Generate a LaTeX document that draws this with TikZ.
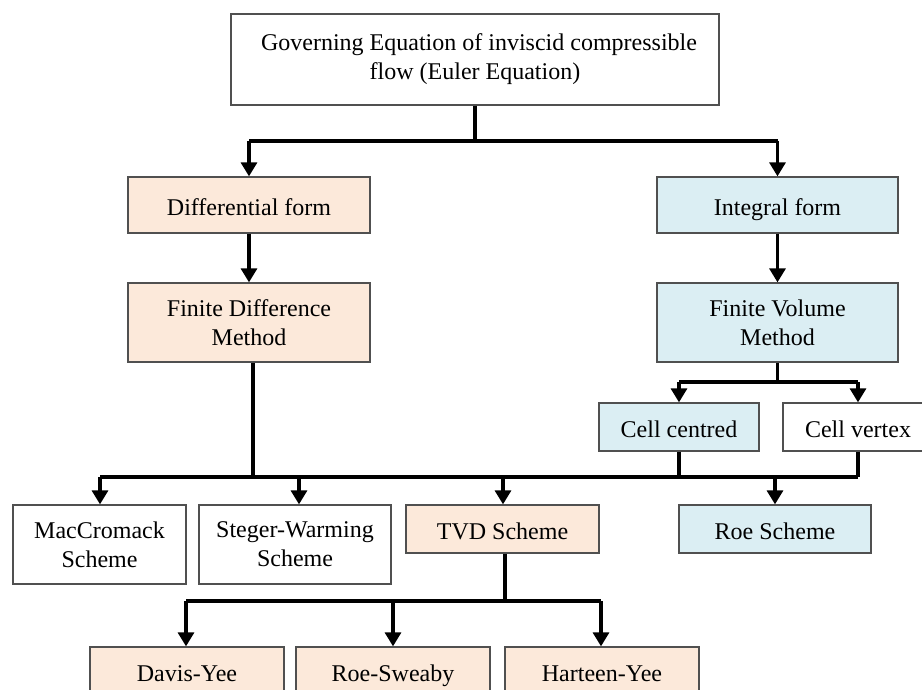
\documentclass[tikz,border=0pt]{standalone}
\usepackage{fontspec}
\setmainfont{Liberation Serif}
\usetikzlibrary{arrows.meta}

\definecolor{peach}{HTML}{FCE9DA}
\definecolor{paleblue}{HTML}{DBEEF3}
\definecolor{edge}{HTML}{505050}

\tikzset{
  box/.style={draw=edge, line width=1.3pt, fill=white, inner sep=0pt,
    align=center, font=\fontsize{24}{29}\selectfont, anchor=center},
  oneline/.style={text height=26pt, text depth=6pt},
  peachbox/.style={box, fill=peach},
  bluebox/.style={box, fill=paleblue},
  wire/.style={line width=3.2pt, line cap=butt, line join=miter},
  arr/.style={wire, -{Triangle[width=16pt,length=14pt]}},
}

\begin{document}
\begin{tikzpicture}[x=1pt, y=-1pt]
  \useasboundingbox (0,0) rectangle (922,689);
  \clip (0,0) rectangle (922,689);

  % boxes
  \node[box, minimum width=488pt, minimum height=91pt] (top) at (475,59.5)
    {\hspace{8pt}Governing Equation of inviscid compressible\\flow (Euler Equation)};

  \node[peachbox, oneline, minimum width=242pt, minimum height=56pt] (diff) at (249,205) {Differential form};
  \node[peachbox, minimum width=242pt, minimum height=79pt] (fdm) at (249,322.5) {Finite Difference\\Method};

  \node[bluebox, oneline, minimum width=241pt, minimum height=56pt] (integ) at (777.5,205) {Integral form};
  \node[bluebox, minimum width=241pt, minimum height=79pt] (fvm) at (777.5,322.5) {Finite Volume\\Method};

  \node[bluebox, oneline, minimum width=160pt, minimum height=48pt] (cellc) at (679,427) {Cell centred};
  \node[box, oneline, minimum width=150pt, minimum height=48pt] (cellv) at (858,427) {Cell vertex};

  \node[box, minimum width=173pt, minimum height=79pt] (mac) at (99.5,544.5) {MacCromack\\Scheme};
  \node[box, minimum width=192pt, minimum height=79pt] (steger) at (295,544.5) {Steger-Warming\\Scheme};
  \node[peachbox, oneline, minimum width=193pt, minimum height=48pt] (tvd) at (502.5,529) {TVD Scheme};
  \node[bluebox, oneline, minimum width=192pt, minimum height=48pt] (roe) at (775,529) {Roe Scheme};

  \node[peachbox, oneline, minimum width=194pt, minimum height=48pt] (davis) at (187,671) {Davis-Yee};
  \node[peachbox, oneline, minimum width=194pt, minimum height=48pt] (sweaby) at (393,671) {Roe-Sweaby};
  \node[peachbox, oneline, minimum width=194pt, minimum height=48pt] (harteen) at (602,671) {Harteen-Yee};

  % junction levels
  \coordinate (busA) at (0,141);
  \coordinate (busB) at (0,382);
  \coordinate (busC) at (0,477);
  \coordinate (busD) at (0,601);

  % top split
  \draw[wire] (top.south) -- (top.south |- busA);
  \draw[wire] (busA -| diff.north) -- (busA -| integ.north);
  \draw[arr] (busA -| diff.north) -- (diff.north);
  \draw[arr] (busA -| integ.north) -- (integ.north);

  % form to method
  \draw[arr] (diff.south) -- (fdm.north);
  \draw[arr] (integ.south) -- (fvm.north);

  % finite volume split
  \draw[wire] (fvm.south) -- (fvm.south |- busB);
  \draw[wire] (busB -| cellc.north) -- (busB -| cellv.north);
  \draw[arr] (busB -| cellc.north) -- (cellc.north);
  \draw[arr] (busB -| cellv.north) -- (cellv.north);

  % schemes bus
  \draw[wire] ([xshift=4pt]fdm.south) -- ([xshift=4pt]fdm.south |- busC);
  \draw[wire] (cellc.south) -- (cellc.south |- busC);
  \draw[wire] (cellv.south) -- (cellv.south |- busC);
  \draw[wire] ([xshift=0.5pt]busC -| mac.north) -- (busC -| cellv.south);
  \draw[arr] ([xshift=0.5pt]busC -| mac.north) -- ([xshift=0.5pt]mac.north);
  \draw[arr] ([xshift=4pt]busC -| steger.north) -- ([xshift=4pt]steger.north);
  \draw[arr] ([xshift=0.5pt]busC -| tvd.north) -- ([xshift=0.5pt]tvd.north);
  \draw[arr] (busC -| roe.north) -- (roe.north);

  % TVD split
  \draw[wire] ([xshift=2.5pt]tvd.south) -- ([xshift=2.5pt]tvd.south |- busD);
  \draw[wire] ([xshift=-1pt]busD -| davis.north) -- ([xshift=-1pt]busD -| harteen.north);
  \draw[arr] ([xshift=-1pt]busD -| davis.north) -- ([xshift=-1pt]davis.north);
  \draw[arr] (busD -| sweaby.north) -- (sweaby.north);
  \draw[arr] ([xshift=-1pt]busD -| harteen.north) -- ([xshift=-1pt]harteen.north);
\end{tikzpicture}
\end{document}
